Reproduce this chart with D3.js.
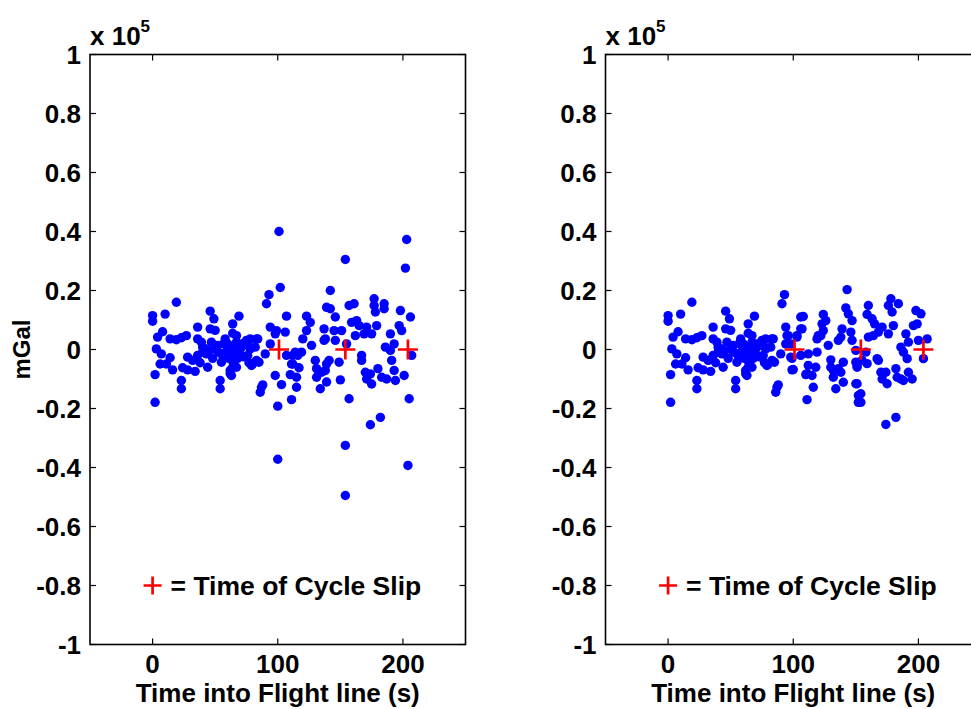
<!DOCTYPE html>
<html>
<head>
<meta charset="utf-8">
<script src="https://cdn.jsdelivr.net/npm/d3@7"></script>
<style>
body { margin: 0; background: #fff; }
text { font-family: "Liberation Sans", Arial, sans-serif; font-weight: bold; }
</style>
</head>
<body>
<script>
// values in units of 1e5 mGal, time in s

// samples before the first cycle slip, same in both panels
var baseTimes = [19,0,0,10,46,49,36,64,46,50,4,8,14,19,23,27,36,39,40,47,52,58,60,63,3,7,14,11,6,28,32,36,40,43,24,28,34,16,44,55,62,63,2,23,23,54,54,2,
    42,45,50,53,56,59,61,57,48,38,69,67,75,83,71,78,66,83,79,85,90,87,86,93,91,94,94,
    64,67,72,70,68,73,64,76,77,64,88,84,78,74,82,80,67,62,59,62,67,72,76];
var baseValues = [0.16,0.115,0.096,0.12,0.13,0.104,0.076,0.087,0.07,0.065,0.042,0.06,0.036,0.033,0.04,0.047,0.036,0.025,0.008,0.025,0.014,0.036,0.019,0.008,0.002,-0.015,-0.028,-0.049,-0.049,-0.026,-0.037,-0.02,-0.009,-0.015,-0.062,-0.069,-0.074,-0.069,-0.06,-0.043,-0.071,-0.088,-0.085,-0.105,-0.133,-0.105,-0.133,-0.179,
    0.003,-0.004,0.0,-0.01,-0.02,-0.005,-0.03,0.02,-0.03,-0.045,0.113,0.047,0.031,0.036,0.008,0.002,-0.009,-0.037,-0.054,-0.043,-0.015,-0.128,-0.145,0.186,0.155,0.076,0.019,
    0.055,0.025,0.02,-0.015,-0.03,-0.025,-0.04,-0.02,-0.045,-0.06,-0.12,0.036,0.036,0.019,0.008,-0.049,-0.06,-0.082,-0.02,-0.015,0.002,0.014,0.025];

// raw solution after the slips (left panel)
var rawTimes = [101,102,107,123,126,123,139,98,106,120,127,137,107,114,119,111,117,110,115,130,131,135,131,139,98,103,115,134,111,100,100,99,112,116,112,
    142,142,146,157,161,177,177,185,185,178,198,206,159,163,165,171,179,197,199,137,145,151,162,169,175,190,138,146,155,186,193,190,207,167,167,191,141,149,138,139,
    170,171,174,175,180,183,187,193,194,201,150,157,205,182,174,203,202,154,154,204,154];
var rawValues = [0.40,0.21,0.113,0.113,0.092,0.064,0.143,0.053,0.059,0.036,0.014,0.031,-0.02,-0.009,-0.009,-0.049,-0.062,-0.085,-0.094,-0.037,-0.065,-0.077,-0.094,-0.049,-0.088,-0.119,-0.128,-0.133,-0.17,-0.192,-0.372,0.064,-0.02,-0.02,-0.049,
    0.2,0.138,0.11,0.149,0.155,0.172,0.149,0.155,0.138,0.127,0.132,0.11,0.092,0.098,0.081,0.076,0.081,0.081,0.064,0.07,0.064,0.064,0.047,0.053,0.053,0.053,0.036,0.031,0.019,0.008,0.019,-0.003,-0.02,-0.02,-0.037,-0.037,-0.037,-0.043,-0.071,-0.11,
    -0.077,-0.1,-0.083,-0.117,-0.065,-0.094,-0.1,-0.071,-0.105,-0.088,-0.103,-0.167,-0.167,-0.23,-0.255,0.373,0.276,0.305,-0.325,-0.393,-0.495];

// repaired solution after the slips (right panel)
var fixedTimes = [143,142,144,147,124,126,123,124,122,108,95,98,106,103,139,138,136,146,147,119,120,128,98,106,112,119,130,140,150,151,112,118,111,115,110,100,130,132,136,132,138,150,140,134,116,111,152,152,
    178,184,176,179,160,159,163,165,198,202,199,196,171,176,168,164,160,180,190,200,207,192,186,188,191,204,150,158,155,151,159,167,168,170,174,171,175,182,183,186,192,195,188,151,154,154,182,174,
    96,103,99,99,106,107];
var fixedValues = [0.203,0.141,0.121,0.098,0.119,0.098,0.087,0.064,0.047,0.112,0.047,0.019,0.07,0.047,0.07,0.042,0.031,0.059,0.031,0.036,0.047,0.014,-0.026,-0.02,-0.015,-0.009,-0.035,-0.043,-0.043,-0.06,-0.054,-0.06,-0.082,-0.088,-0.085,-0.068,-0.06,-0.071,-0.065,-0.094,-0.077,-0.116,-0.111,-0.133,-0.128,-0.17,-0.156,-0.179,
    0.172,0.155,0.149,0.127,0.149,0.119,0.104,0.087,0.132,0.121,0.087,0.081,0.076,0.053,0.059,0.047,0.042,0.081,0.053,0.031,0.036,0.025,0.008,-0.009,-0.031,-0.031,-0.003,-0.009,-0.037,-0.054,-0.048,-0.031,-0.037,-0.077,-0.077,-0.1,-0.116,-0.065,-0.094,-0.1,-0.077,-0.1,-0.105,-0.116,-0.15,-0.179,-0.23,-0.254,
    0.047,0.042,-0.03,-0.069,0.11,0.07];

var slipTimes = [101, 154, 204];
var xTicks = [0, 100, 200];
var yTicks = [-1, -0.8, -0.6, -0.4, -0.2, 0, 0.2, 0.4, 0.6, 0.8, 1];

var w = 971, h = 709;

var svg = d3.select("body").append("svg")
    .attr("width", w)
    .attr("height", h);

function zip(ts, vs) {
    return ts.map(function(t, i) { return [t, vs[i]]; });
}

function cross(g, x, y, size) {
    g.append("path")
        .attr("d", "M" + (x - size) + "," + y + "H" + (x + size) + "M" + x + "," + (y - size) + "V" + (y + size))
        .attr("stroke", "#ff0000")
        .attr("stroke-width", 2.7)
        .attr("fill", "none");
}

function drawPanel(left, points, withYLabel) {
    var x = d3.scaleLinear().domain([-50, 250]).range([left, left + 375.5]);
    var y = d3.scaleLinear().domain([-1, 1]).range([644.5, 54.5]);

    var g = svg.append("g");

    // dots
    g.selectAll("circle")
        .data(points)
        .enter().append("circle")
        .attr("cx", function(d) { return x(d[0]); })
        .attr("cy", function(d) { return y(d[1]); })
        .attr("r", 4.7)
        .attr("fill", "#0000ff");

    slipTimes.forEach(function(t) { cross(g, x(t), y(0), 10); });

    // box
    g.append("rect")
        .attr("x", x(-50)).attr("y", y(1))
        .attr("width", x(250) - x(-50)).attr("height", y(-1) - y(1))
        .attr("fill", "none").attr("stroke", "#000").attr("stroke-width", 1.6);

    var tl = 6;
    yTicks.forEach(function(v) {
        g.append("line").attr("x1", x(-50)).attr("x2", x(-50) + tl)
            .attr("y1", y(v)).attr("y2", y(v)).attr("stroke", "#000").attr("stroke-width", 1.2);
        g.append("line").attr("x1", x(250)).attr("x2", x(250) - tl)
            .attr("y1", y(v)).attr("y2", y(v)).attr("stroke", "#000").attr("stroke-width", 1.2);
        g.append("text")
            .attr("x", x(-50) - 9).attr("y", y(v) + 9.5)
            .attr("text-anchor", "end")
            .style("font-size", "26px")
            .text(String(v));
    });
    xTicks.forEach(function(t) {
        g.append("line").attr("x1", x(t)).attr("x2", x(t))
            .attr("y1", y(-1)).attr("y2", y(-1) - tl).attr("stroke", "#000").attr("stroke-width", 1.2);
        g.append("line").attr("x1", x(t)).attr("x2", x(t))
            .attr("y1", y(1)).attr("y2", y(1) + tl).attr("stroke", "#000").attr("stroke-width", 1.2);
        g.append("text")
            .attr("x", x(t)).attr("y", 673)
            .attr("text-anchor", "middle")
            .style("font-size", "26px")
            .text(t);
    });

    // exponent label
    var ex = g.append("text").attr("x", x(-50)).attr("y", 45).style("font-size", "26px");
    ex.append("tspan").text("x 10");
    ex.append("tspan").attr("dy", -13).style("font-size", "17px").text("5");

    g.append("text")
        .attr("x", (x(-50) + x(250)) / 2).attr("y", 702)
        .attr("text-anchor", "middle")
        .style("font-size", "26px")
        .text("Time into Flight line (s)");

    if (withYLabel) {
        g.append("text")
            .attr("transform", "translate(30," + y(0) + ")rotate(-90)")
            .attr("text-anchor", "middle")
            .style("font-size", "24px")
            .text("mGal");
    }

    // legend note
    cross(g, x(0), y(-0.8), 9);
    g.append("text")
        .attr("x", x(0) + 18).attr("y", y(-0.8) + 9.5)
        .style("font-size", "26.5px")
        .text("= Time of Cycle Slip");
}

drawPanel(90, zip(baseTimes, baseValues).concat(zip(rawTimes, rawValues)), true);
drawPanel(605.5, zip(baseTimes, baseValues).concat(zip(fixedTimes, fixedValues)), false);
</script>
</body>
</html>
